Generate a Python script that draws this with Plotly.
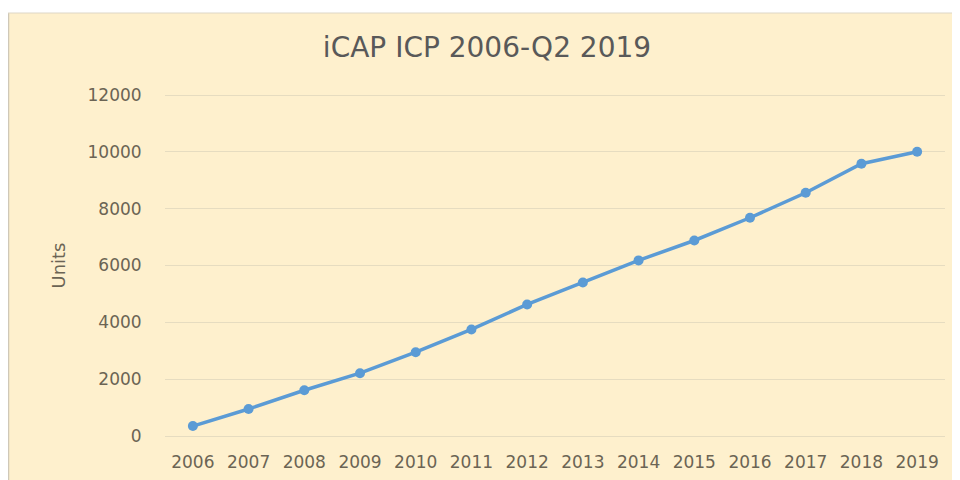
import plotly.graph_objects as go

years = ["2006", "2007", "2008", "2009", "2010", "2011", "2012",
         "2013", "2014", "2015", "2016", "2017", "2018", "2019"]
units = [350, 950, 1610, 2210, 2950, 3750, 4630,
         5400, 6180, 6880, 7680, 8560, 9580, 10000]
y_ticks = [0, 2000, 4000, 6000, 8000, 10000, 12000]

BG = "#FEF0CD"
TXT = "#6b6454"
GRID = "#E6DCC0"

fig = go.Figure()
fig.add_trace(go.Scatter(
    x=years, y=units, mode="lines+markers",
    line=dict(color="#5B9BD5", width=3.5),
    marker=dict(color="#5B9BD5", size=10),
    showlegend=False,
))

W, H = 960, 480
OFF = 8  # page body margin
pad = 6  # pixels of padding beyond gridlines 0 and 12000
top_px, bot_px = 95 - OFF - pad, 436 - OFF + pad
L, R = 165 - OFF, W - (945 - OFF)
T, B = top_px, H - bot_px
pw, ph = W - L - R, H - T - B
upp = 12000 / (ph - 2 * pad)

def px_x(p):
    return (p - L) / pw

def px_y(p):
    return (H - B - p) / ph

fig.update_layout(
    width=W, height=H,
    margin=dict(l=L, r=R, t=T, b=B),
    paper_bgcolor=BG, plot_bgcolor=BG,
    title=dict(text="iCAP ICP 2006-Q2 2019", x=479 / W, xanchor="center",
               y=1 - 39 / H, yanchor="middle",
               font=dict(family="DejaVu Sans", size=28, color="#595959")),
    font=dict(family="DejaVu Sans", color=TXT),
    xaxis=dict(type="category", range=[-0.5, 13.5], showgrid=False,
               showline=False, zeroline=False,
               ticks="outside", ticklen=5, tickcolor="rgba(0,0,0,0)",
               tickfont=dict(size=17, color=TXT)),
    yaxis=dict(range=[-pad * upp, 12000 + pad * upp], tickvals=y_ticks,
               tickformat="d", showgrid=True,
               gridcolor=GRID, gridwidth=1.2, zeroline=False, showline=False,
               ticks="outside", ticklen=19, tickcolor="rgba(0,0,0,0)",
               tickfont=dict(size=17, color=TXT),
               title=dict(text="Units", standoff=17,
                          font=dict(size=18, color=TXT))),
    shapes=[
        dict(type="rect", xref="paper", yref="paper", layer="below",
             x0=px_x(-5), x1=px_x(W + 5), y0=px_y(5), y1=px_y(-5),
             fillcolor="white", line=dict(width=0)),
        dict(type="line", xref="paper", yref="paper", layer="below",
             x0=px_x(0.5), x1=px_x(0.5), y0=px_y(H + 5), y1=px_y(5),
             line=dict(color="#CFC8B8", width=1.5)),
        dict(type="line", xref="paper", yref="paper", layer="below",
             x0=px_x(0), x1=px_x(W + 5), y0=px_y(5), y1=px_y(5),
             line=dict(color="#DDD6C6", width=1)),
    ],
)

fig.write_html("out.html")
